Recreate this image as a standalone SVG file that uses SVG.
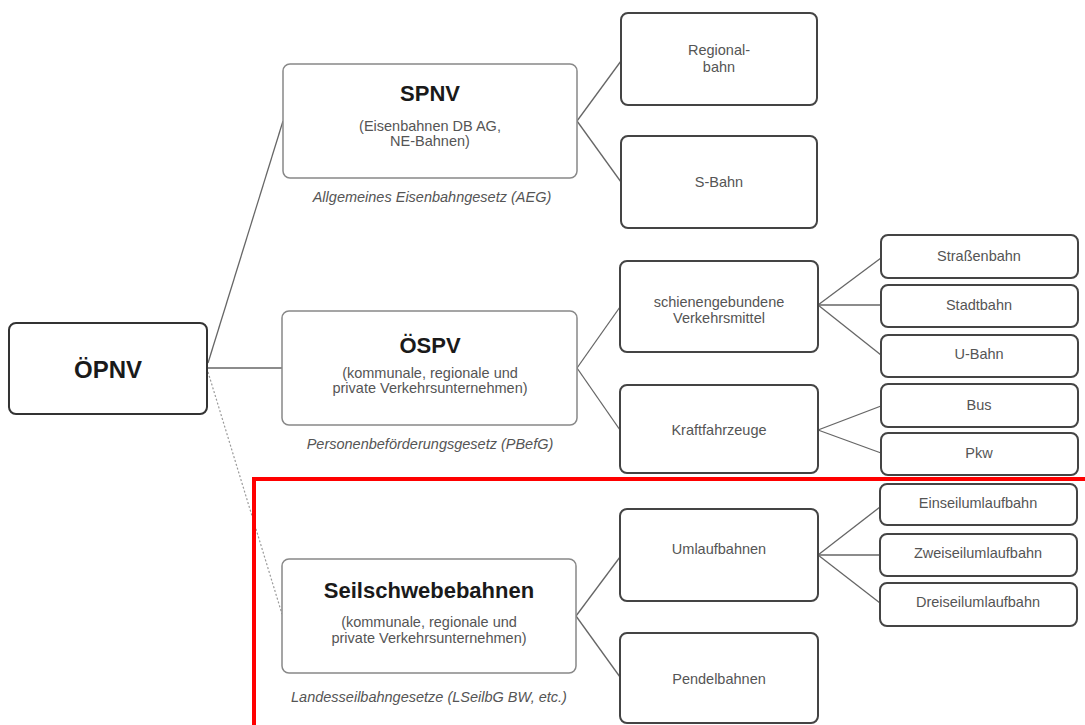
<svg xmlns="http://www.w3.org/2000/svg" width="1085" height="725" viewBox="0 0 1085 725">
<style>
text{font-family:"Liberation Sans",Arial,sans-serif;text-anchor:middle;fill:#555;font-size:14.5px}
.t{font-weight:bold;fill:#1a1a1a;font-size:22px}
.big{font-weight:bold;fill:#1a1a1a;font-size:24px}
.cap{font-style:italic;fill:#555}
.leaf{fill:#fff;stroke:#444;stroke-width:2}
.mid{fill:#fff;stroke:#888;stroke-width:1.5}
.root{fill:#fff;stroke:#333;stroke-width:2}
.c line{stroke:#666;stroke-width:1.3}
</style>
<rect width="1085" height="725" fill="#fff"/>
<g id="connectors" class="c">
<line x1="208" y1="363" x2="283" y2="121"/>
<line x1="208" y1="368" x2="282" y2="368"/>
<line x1="208" y1="372" x2="282" y2="614" style="stroke:#999;stroke-width:1.2;stroke-dasharray:2 2"/>
<line x1="577" y1="121" x2="621" y2="61"/>
<line x1="577" y1="121" x2="621" y2="182"/>
<line x1="577" y1="368" x2="620" y2="307"/>
<line x1="577" y1="368" x2="620" y2="430"/>
<line x1="818" y1="305" x2="881" y2="258"/>
<line x1="818" y1="305" x2="881" y2="305"/>
<line x1="818" y1="305" x2="881" y2="355"/>
<line x1="818" y1="430" x2="881" y2="406"/>
<line x1="818" y1="430" x2="881" y2="453"/>
<line x1="576" y1="616" x2="620" y2="557"/>
<line x1="576" y1="616" x2="620" y2="677"/>
<line x1="818" y1="555" x2="880" y2="507"/>
<line x1="818" y1="555" x2="880" y2="555"/>
<line x1="818" y1="555" x2="880" y2="603"/>
</g>
<g id="oepnv"><rect class="root" x="9" y="323" width="198" height="91" rx="7"/><text class="big" x="108" y="378">ÖPNV</text></g>
<g id="spnv"><rect class="mid" x="283" y="64" width="294" height="114" rx="7"/><text class="t" x="430" y="101">SPNV</text><text x="430" y="131">(Eisenbahnen DB AG,</text><text x="430" y="146">NE-Bahnen)</text><text class="cap" x="432" y="202">Allgemeines Eisenbahngesetz (AEG)</text></g>
<g id="oespv"><rect class="mid" x="282" y="311" width="295" height="114" rx="7"/><text class="t" x="430" y="353">ÖSPV</text><text x="430" y="378">(kommunale, regionale und</text><text x="430" y="393">private Verkehrsunternehmen)</text><text class="cap" x="430" y="449">Personenbeförderungsgesetz (PBefG)</text></g>
<g id="seil"><rect class="mid" x="282" y="559" width="294" height="114" rx="7"/><text class="t" x="429" y="598">Seilschwebebahnen</text><text x="429" y="627">(kommunale, regionale und</text><text x="429" y="643">private Verkehrsunternehmen)</text><text class="cap" x="429" y="702">Landesseilbahngesetze (LSeilbG BW, etc.)</text></g>
<g id="regionalbahn"><rect class="leaf" x="621" y="13" width="196" height="92" rx="7"/><text x="719" y="55">Regional-</text><text x="719" y="72">bahn</text></g>
<g id="sbahn"><rect class="leaf" x="621" y="136" width="196" height="92" rx="7"/><text x="719" y="187">S-Bahn</text></g>
<g id="schienen"><rect class="leaf" x="620" y="261" width="198" height="91" rx="7"/><text x="719" y="307">schienengebundene</text><text x="719" y="323">Verkehrsmittel</text></g>
<g id="kfz"><rect class="leaf" x="620" y="385" width="198" height="88" rx="7"/><text x="719" y="435">Kraftfahrzeuge</text></g>
<g id="umlauf"><rect class="leaf" x="620" y="509" width="198" height="92" rx="7"/><text x="719" y="554">Umlaufbahnen</text></g>
<g id="pendel"><rect class="leaf" x="620" y="633" width="198" height="90" rx="7"/><text x="719" y="684">Pendelbahnen</text></g>
<g id="strassenbahn"><rect class="leaf" x="881" y="235" width="197" height="43" rx="7"/><text x="979" y="261">Straßenbahn</text></g>
<g id="stadtbahn"><rect class="leaf" x="881" y="285" width="197" height="42" rx="7"/><text x="979" y="310">Stadtbahn</text></g>
<g id="ubahn"><rect class="leaf" x="881" y="335" width="197" height="42" rx="7"/><text x="979" y="359">U-Bahn</text></g>
<g id="bus"><rect class="leaf" x="881" y="384" width="197" height="43" rx="7"/><text x="979" y="410">Bus</text></g>
<g id="pkw"><rect class="leaf" x="881" y="433" width="197" height="42" rx="7"/><text x="979" y="458">Pkw</text></g>
<g id="einseil"><rect class="leaf" x="880" y="484" width="197" height="41" rx="7"/><text x="978" y="508">Einseilumlaufbahn</text></g>
<g id="zweiseil"><rect class="leaf" x="880" y="534" width="197" height="42" rx="7"/><text x="978" y="558">Zweiseilumlaufbahn</text></g>
<g id="dreiseil"><rect class="leaf" x="880" y="583" width="197" height="43" rx="7"/><text x="978" y="607">Dreiseilumlaufbahn</text></g>
<rect id="highlight" x="254" y="479" width="900" height="300" fill="none" stroke="#f00" stroke-width="4"/>
</svg>
